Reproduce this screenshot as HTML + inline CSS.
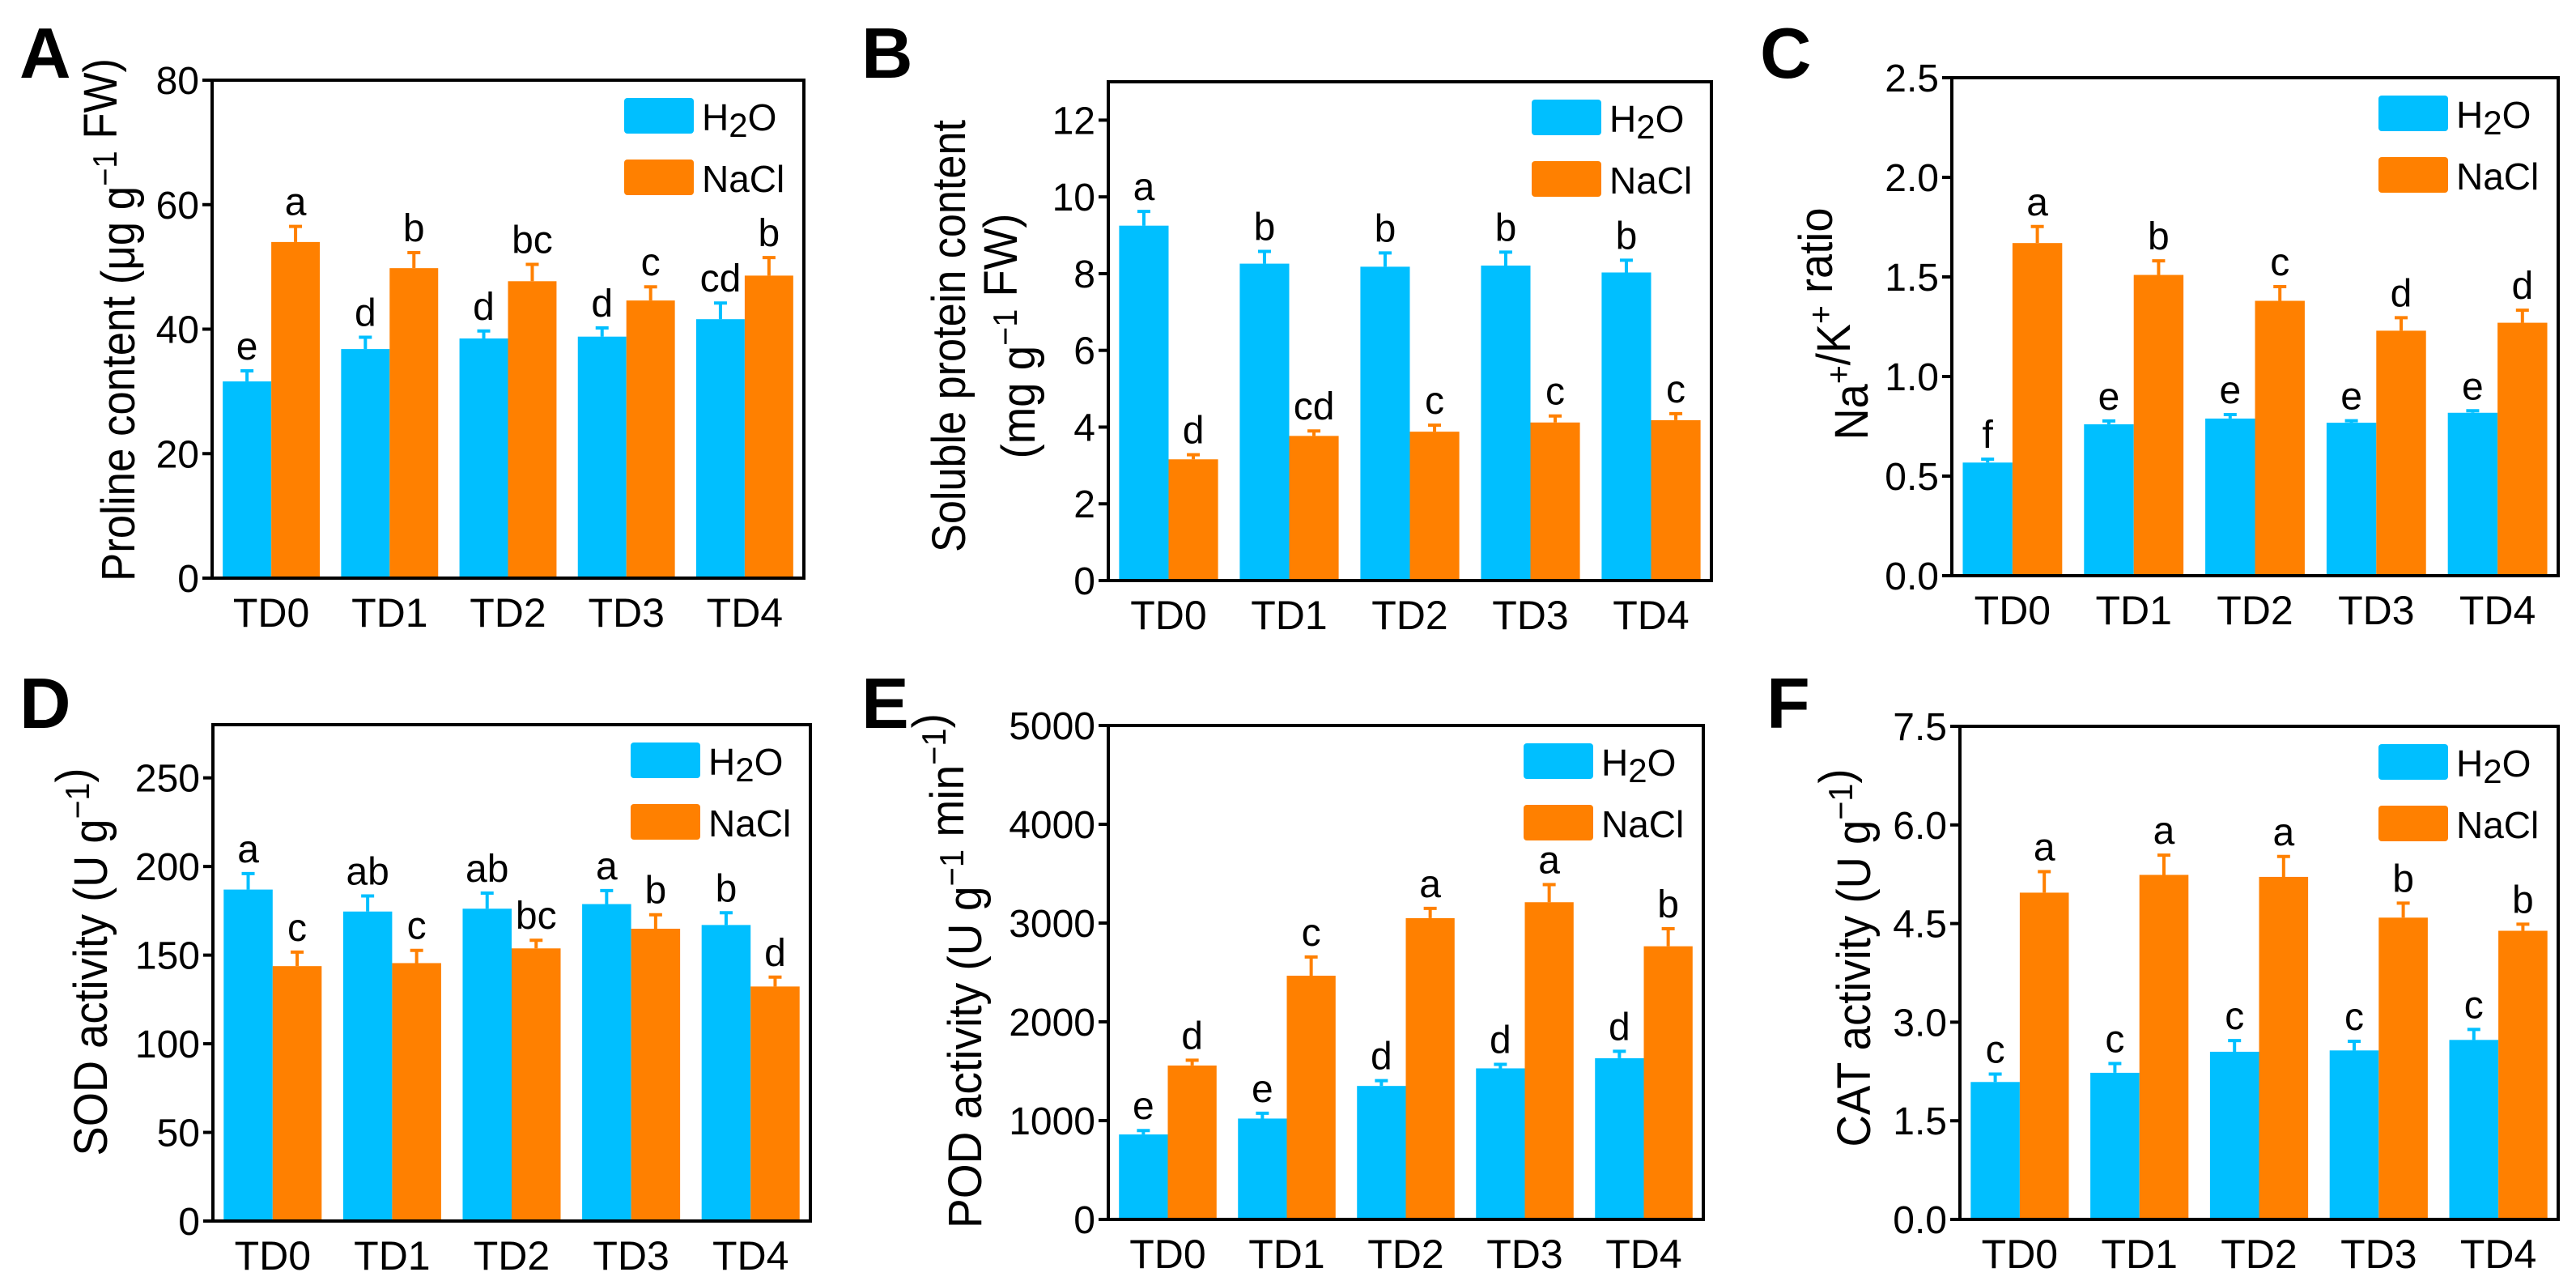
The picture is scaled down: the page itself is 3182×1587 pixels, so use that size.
<!DOCTYPE html>
<html><head><meta charset="utf-8">
<style>
html,body{margin:0;padding:0;background:#fff;}
svg{display:block;font-family:"Liberation Sans",Arial,sans-serif;}
</style></head>
<body>
<svg id="fig" width="3182" height="1587" viewBox="0 0 3182 1587" xmlns="http://www.w3.org/2000/svg"></svg>
<script>
const categories = ["TD0","TD1","TD2","TD3","TD4"];

const prolineH2O = [31.6,36.8,38.5,38.8,41.6];
const prolineH2OErr = [1.7,1.9,1.2,1.4,2.6];
const prolineNaCl = [54.0,49.8,47.7,44.6,48.6];
const prolineNaClErr = [2.5,2.5,2.7,2.2,2.9];
const prolineH2OLetters = ["e","d","d","d","cd"];
const prolineNaClLetters = ["a","b","bc","c","b"];
const prolineTicks = [0,20,40,60,80];

const proteinH2O = [9.25,8.26,8.18,8.21,8.03];
const proteinH2OErr = [0.37,0.32,0.36,0.35,0.32];
const proteinNaCl = [3.16,3.77,3.88,4.12,4.18];
const proteinNaClErr = [0.12,0.13,0.17,0.17,0.17];
const proteinH2OLetters = ["a","b","b","b","b"];
const proteinNaClLetters = ["d","cd","c","c","c"];
const proteinTicks = [0,2,4,6,8,10,12];

const ratioH2O = [0.568,0.76,0.789,0.768,0.818];
const ratioH2OErr = [0.017,0.017,0.02,0.01,0.01];
const ratioNaCl = [1.67,1.51,1.38,1.23,1.27];
const ratioNaClErr = [0.083,0.071,0.071,0.065,0.063];
const ratioH2OLetters = ["f","e","e","e","e"];
const ratioNaClLetters = ["a","b","c","d","d"];
const ratioTicks = ["0.0","0.5","1.0","1.5","2.0","2.5"];

const sodH2O = [187,174.6,176.2,178.8,167];
const sodH2OErr = [9,8.8,8.8,7.6,6.9];
const sodNaCl = [143.8,145.5,153.8,164.9,132.3];
const sodNaClErr = [7.9,7.2,4.6,7.9,5.3];
const sodH2OLetters = ["a","ab","ab","a","b"];
const sodNaClLetters = ["c","c","bc","b","d"];
const sodTicks = [0,50,100,150,200,250];

const podH2O = [860,1021,1351,1529,1632];
const podH2OErr = [40,54,54,41,70];
const podNaCl = [1558,2467,3050,3211,2765];
const podNaClErr = [54,190,99,178,178];
const podH2OLetters = ["e","e","d","d","d"];
const podNaClLetters = ["d","c","a","a","b"];
const podTicks = [0,1000,2000,3000,4000,5000];

const catH2O = [2.09,2.23,2.55,2.57,2.73];
const catH2OErr = [0.12,0.14,0.17,0.14,0.16];
const catNaCl = [4.97,5.24,5.21,4.59,4.39];
const catNaClErr = [0.32,0.30,0.31,0.22,0.10];
const catH2OLetters = ["c","c","c","c","c"];
const catNaClLetters = ["a","a","a","b","b"];
const catTicks = ["0.0","1.5","3.0","4.5","6.0","7.5"];

const NS = "http://www.w3.org/2000/svg";
const svg = document.getElementById("fig");
const BLUE = "#00BFFF", ORANGE = "#FF8000";

function mk(tag, attrs, parent, text){
  const e = document.createElementNS(NS, tag);
  for (const k in attrs) e.setAttribute(k, attrs[k]);
  if (text !== undefined) e.textContent = text;
  (parent||svg).appendChild(e);
  return e;
}

function panel(p){
  const g = mk("g", {});
  
  
  const L=p.left,R=p.right,T=p.top,B=p.bottom,max=p.max;
  const yS = v => B - (v/max)*(B-T);
  const band = (R-L)/categories.length;
  const gw = band*0.82, bw = gw/2;
  const pl = mk("text",{x:p.lx,y:p.ly,"font-size":88,"font-weight":"bold"},g,p.letter);
  
  
  categories.forEach((c,i)=>{
    const gx = L + band*i + (band-gw)/2;
    [[p.h2o,p.h2oErr,p.h2oL,BLUE,"h2o"],[p.nacl,p.naclErr,p.naclL,ORANGE,"nacl"]].forEach((s,j)=>{
      const v=s[0][i], e=s[1][i], x=gx+j*bw, y=yS(v), ye=yS(v+e), cx=x+bw/2;
      const r = mk("rect",{x:x,y:y,width:bw,height:B-y,fill:s[3]},g);
      
      
      const el = mk("path",{d:`M${cx},${y} V${ye} M${cx-8},${ye} H${cx+8}`,stroke:s[3],"stroke-width":4,fill:"none"},g);
      
      
      const t = mk("text",{x:cx,y:ye-14,"font-size":48,"text-anchor":"middle"},g,s[2][i]);
      
      
    });
    const xl = mk("text",{x:L+band*(i+0.5),y:B+60,"font-size":50,"text-anchor":"middle"},g,c);
    
    
  });
  const box = mk("rect",{x:L,y:T,width:R-L,height:B-T,fill:"none",stroke:"#000","stroke-width":4},g);
  
  
  p.ticks.forEach(tk=>{
    const y=yS(parseFloat(tk));
    mk("line",{x1:L-12,x2:L,y1:y,y2:y,stroke:"#000","stroke-width":4},g);
    const tl = mk("text",{x:L-16,y:y+17,"font-size":48,"text-anchor":"end"},g,String(tk));
    
    
  });
  const lx=R-222, ly=T+22;
  const lg = mk("g",{},g);
  
  
  mk("rect",{x:lx,y:ly,width:86,height:44,rx:4,fill:BLUE},lg);
  const t1 = mk("text",{x:lx+96,y:ly+40,"font-size":46},lg);
  
  
  mk("tspan",{},t1,"H");
  mk("tspan",{dy:8,"font-size":42},t1,"2");
  mk("tspan",{dy:-8},t1,"O");
  mk("rect",{x:lx,y:ly+76,width:86,height:44,rx:4,fill:ORANGE},lg);
  const t2 = mk("text",{x:lx+96,y:ly+116,"font-size":46},lg,"NaCl");
  
  
  p.ylab.forEach(ln=>{
    const t = mk("text",{transform:`translate(${ln.x},${p.ycy}) rotate(-90)`,"font-size":58,"text-anchor":"middle",y:20,textLength:ln.len,lengthAdjust:"spacingAndGlyphs"},g);
    
    
    ln.parts.forEach(pt=>{
      if (pt[1]==="sup") { mk("tspan",{dy:-22,"font-size":42},t,pt[0]); mk("tspan",{dy:22},t,""); }
      else mk("tspan",{},t,pt[0]);
    });
  });
}

panel({name:"panel-a-proline",letter:"A",lx:24,ly:96,left:262,right:993,top:99,bottom:714,max:80,ticks:prolineTicks,
  h2o:prolineH2O,h2oErr:prolineH2OErr,nacl:prolineNaCl,naclErr:prolineNaClErr,h2oL:prolineH2OLetters,naclL:prolineNaClLetters,
  ycy:395,ylab:[{x:146,len:646,parts:[["Proline content (μg g"],["−1","sup"],[" FW)"]]}]});
panel({name:"panel-b-protein",letter:"B",lx:1064,ly:96,left:1369,right:2114,top:101,bottom:717,max:13,ticks:proteinTicks,
  h2o:proteinH2O,h2oErr:proteinH2OErr,nacl:proteinNaCl,naclErr:proteinNaClErr,h2oL:proteinH2OLetters,naclL:proteinNaClLetters,
  ycy:415,ylab:[{x:1172,len:534,parts:[["Soluble protein content"]]},{x:1258,len:303,parts:[["(mg g"],["−1","sup"],[" FW)"]]}]});
panel({name:"panel-c-ratio",letter:"C",lx:2174,ly:96,left:2411,right:3160,top:96,bottom:711,max:2.5,ticks:ratioTicks,
  h2o:ratioH2O,h2oErr:ratioH2OErr,nacl:ratioNaCl,naclErr:ratioNaClErr,h2oL:ratioH2OLetters,naclL:ratioNaClLetters,
  ycy:400,ylab:[{x:2287,len:287,parts:[["Na"],["+","sup"],["/K"],["+","sup"],[" ratio"]]}]});
panel({name:"panel-d-sod",letter:"D",lx:24,ly:899,left:263,right:1001,top:895,bottom:1508,max:280,ticks:sodTicks,
  h2o:sodH2O,h2oErr:sodH2OErr,nacl:sodNaCl,naclErr:sodNaClErr,h2oL:sodH2OLetters,naclL:sodNaClLetters,
  ycy:1188,ylab:[{x:112,len:479,parts:[["SOD activity (U g"],["−1","sup"],[")"]]}]});
panel({name:"panel-e-pod",letter:"E",lx:1064,ly:899,left:1369,right:2104,top:896,bottom:1506,max:5000,ticks:podTicks,
  h2o:podH2O,h2oErr:podH2OErr,nacl:podNaCl,naclErr:podNaClErr,h2oL:podH2OLetters,naclL:podNaClLetters,
  ycy:1199,ylab:[{x:1192,len:636,parts:[["POD activity (U g"],["−1","sup"],[" min"],["−1","sup"],[")"]]}]});
panel({name:"panel-f-cat",letter:"F",lx:2182,ly:899,left:2421,right:3160,top:897,bottom:1506,max:7.5,ticks:catTicks,
  h2o:catH2O,h2oErr:catH2OErr,nacl:catNaCl,naclErr:catNaClErr,h2oL:catH2OLetters,naclL:catNaClLetters,
  ycy:1183,ylab:[{x:2290,len:467,parts:[["CAT activity (U g"],["−1","sup"],[")"]]}]});
</script>
</body></html>
